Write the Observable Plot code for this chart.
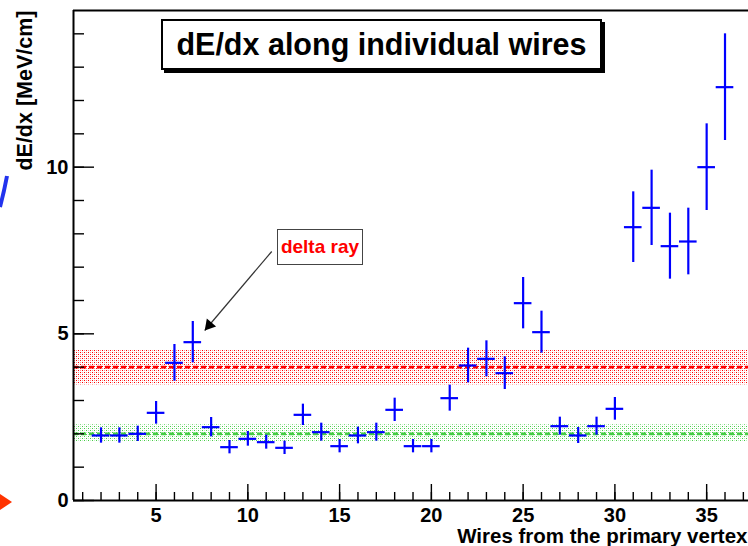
<!DOCTYPE html>
<html><head><meta charset="utf-8">
<script src="https://cdn.jsdelivr.net/npm/d3@7"></script>
<script src="https://cdn.jsdelivr.net/npm/@observablehq/plot@0.6"></script>
<style>
html,body{margin:0;padding:0;background:#fff;}
#wrap{position:relative;width:748px;height:546px;overflow:hidden;font-family:"Liberation Sans",Arial,Helvetica,sans-serif;}
#wrap svg.plot{position:absolute;left:0;top:0;}
#title{position:absolute;left:161px;top:19px;width:441px;height:51px;box-sizing:border-box;border:2px solid #000;box-shadow:3px 3px 0 #000;background:#fff;display:flex;align-items:center;justify-content:center;font-weight:bold;font-size:30.5px;color:#000;}
#delta{position:absolute;left:277px;top:229px;width:86px;height:36px;box-sizing:border-box;border:1px solid #444;background:#fff;color:#ff0000;font-weight:bold;font-size:19px;display:flex;align-items:center;justify-content:center;}
#deco{position:absolute;left:0;top:0;}
</style></head>
<body>
<svg width="0" height="0" style="position:absolute"><defs>
<pattern id="redDots" width="4" height="4" patternUnits="userSpaceOnUse"><rect x="0" y="0" width="1" height="1" fill="#ff0000"/><rect x="2" y="2" width="1" height="1" fill="#ff0000"/><rect x="2" y="0" width="1" height="1" fill="#ff9090"/><rect x="0" y="2" width="1" height="1" fill="#ff9090"/></pattern>
<pattern id="greenDots" width="4" height="4" patternUnits="userSpaceOnUse"><rect x="0" y="0" width="1" height="1" fill="#44cc44"/><rect x="2" y="2" width="1" height="1" fill="#44cc44"/><rect x="2" y="0" width="1" height="1" fill="#c4efc4"/><rect x="0" y="2" width="1" height="1" fill="#c4efc4"/></pattern>
</defs></svg>
<div id="wrap"></div>
<script>
// ---- data ----
const wires   = [2,3,4,5,6,7,8,9,10,11,12,13,14,15,16,17,18,19,20,21,22,23,24,25,26,27,28,29,30,31,32,33,34,35,36];
const dedx    = [1.95,1.95,2.0,2.63,4.13,4.75,2.2,1.6,1.85,1.75,1.58,2.57,2.05,1.63,1.95,2.05,2.72,1.63,1.63,3.07,4.05,4.25,3.82,5.92,5.05,2.23,1.95,2.23,2.75,8.2,8.78,7.63,7.77,10.0,12.4];
const dedxErr = [0.23,0.23,0.23,0.34,0.55,0.62,0.29,0.2,0.22,0.21,0.2,0.32,0.27,0.2,0.25,0.27,0.35,0.2,0.2,0.39,0.52,0.54,0.49,0.77,0.63,0.27,0.24,0.27,0.34,1.06,1.13,0.99,1.0,1.3,1.6];
const binHalfWidth = 0.48;

const bandNames = ["delta ray level", "MIP level"];
const bandMid   = [4.0, 2.0];
const bandLow   = [3.47, 1.77];
const bandHigh  = [4.53, 2.27];

const xMajorTicks = [5,10,15,20,25,30,35];
const xMinorTicks = d3.range(1, 38);
const yMajorTicks = [0,5,10];
const yMinorTicks = d3.range(0, 15);

const titleText = "dE/dx along individual wires";
const xTitle = "Wires from the primary vertex";
const yTitle = "dE/dx [MeV/cm]";
const annotationText = "delta ray";
const arrowFrom = [11.3, 7.47];
const arrowTo   = [7.65, 5.1];

// ---- layout ----
const W = 748, H = 546;
const mL = 73, mR = 0, mT = 10, mB = 46;
const xDomain = [0.5, 37.28];
const yDomain = [0, 14.7];
const plotW = W - mL - mR, plotH = H - mT - mB;
const font = "'Liberation Sans', Arial, Helvetica, sans-serif";

const rows = wires.map((w, i) => ({wire: w, v: dedx[i], e: dedxErr[i]}));
const bands = bandNames.map((n, i) => ({name: n, mid: bandMid[i], lo: bandLow[i], hi: bandHigh[i]}));
const bandFill = ["url(#redDots)", "url(#greenDots)"];
const bandLine = ["#ff0000", "#44cc44"];

const marks = [];
bands.forEach((b, i) => {
  marks.push(Plot.rect([b], {x1: xDomain[0], x2: xDomain[1], y1: "lo", y2: "hi", fill: bandFill[i]}));
});
bands.forEach((b, i) => {
  marks.push(Plot.ruleY([b], {y: "mid", stroke: bandLine[i], strokeWidth: 2.6, strokeDasharray: "5,3"}));
});

// error bars (data)
marks.push(Plot.ruleX(rows, {x: "wire", y1: d => d.v - d.e, y2: d => d.v + d.e, stroke: "#0000ff", strokeWidth: 2.2}));
marks.push(Plot.ruleY(rows, {y: "v", x1: d => d.wire - binHalfWidth, x2: d => d.wire + binHalfWidth, stroke: "#0000ff", strokeWidth: 2.2}));

// frame
marks.push(Plot.ruleX([xDomain[0]], {y1: yDomain[0], y2: yDomain[1], stroke: "#000", strokeWidth: 2}));
marks.push(Plot.ruleY([yDomain[0], yDomain[1]], {stroke: "#000", strokeWidth: 2}));

// ticks (inward)
marks.push(Plot.tickY(yMinorTicks, {y: d => d, insetRight: plotW - 11, stroke: "#000", strokeWidth: 1.4}));
marks.push(Plot.tickY(yMajorTicks, {y: d => d, insetRight: plotW - 21, stroke: "#000", strokeWidth: 1.4}));
marks.push(Plot.tickX(xMinorTicks, {x: d => d, insetTop: plotH - 8, stroke: "#000", strokeWidth: 1.4}));
marks.push(Plot.tickX(xMajorTicks, {x: d => d, insetTop: plotH - 16, stroke: "#000", strokeWidth: 1.4}));

// tick labels
marks.push(Plot.text(yMajorTicks, {x: xDomain[0], y: d => d, text: d => String(d), textAnchor: "end", dx: -5, fontSize: 20, fontWeight: "bold", fontFamily: font, fill: "#000"}));
marks.push(Plot.text(xMajorTicks, {x: d => d, y: yDomain[0], text: d => String(d), dy: 15, lineAnchor: "middle", fontSize: 20, fontWeight: "bold", fontFamily: font, fill: "#000"}));

// axis titles
marks.push(Plot.text([xTitle], {frameAnchor: "bottom-right", text: d => d, textAnchor: "end", lineAnchor: "middle", dx: -1, dy: 36, fontSize: 20.5, fontWeight: "bold", fontFamily: font, fill: "#000"}));
marks.push(Plot.text([yTitle], {frameAnchor: "top-left", text: d => d, rotate: -90, textAnchor: "end", lineAnchor: "middle", dx: -48, dy: 0, fontSize: 21.5, fontWeight: "bold", fontFamily: font, fill: "#000"}));

// annotation arrow
marks.push(Plot.link([{from: arrowFrom, to: arrowTo}], {x1: d => d.from[0], y1: d => d.from[1], x2: d => d.to[0], y2: d => d.to[1], stroke: "#333", strokeWidth: 1.2}));
marks.push(Plot.dot([{to: arrowTo}], {x: d => d.to[0], y: d => d.to[1], symbol: "triangle", r: 4.5, rotate: 220, dx: 4.5, dy: -5.3, fill: "#000", stroke: "none"}));

const chart = Plot.plot({
  width: W, height: H,
  marginLeft: mL, marginRight: mR, marginTop: mT, marginBottom: mB,
  x: {domain: xDomain, axis: null},
  y: {domain: yDomain, axis: null},
  style: {background: "#fff", overflow: "visible", fontFamily: font},
  marks
});
chart.classList.add("plot");
const wrap = document.getElementById("wrap");
wrap.appendChild(chart);

const t = document.createElement("div");
t.id = "title"; t.textContent = titleText; wrap.appendChild(t);
const a = document.createElement("div");
a.id = "delta"; a.textContent = annotationText; wrap.appendChild(a);

// stray slide fragments at the left edge of the picture
const ns = "http://www.w3.org/2000/svg";
const deco = document.createElementNS(ns, "svg");
deco.setAttribute("id", "deco"); deco.setAttribute("width", 20); deco.setAttribute("height", H);
deco.innerHTML = '<path d="M7,176 Q4,192 0,207" fill="none" stroke="#2233ee" stroke-width="4"/><path d="M0,494 L12,502 L0,510 Z" fill="#ff3300"/>';
wrap.appendChild(deco);
</script>
</body></html>
